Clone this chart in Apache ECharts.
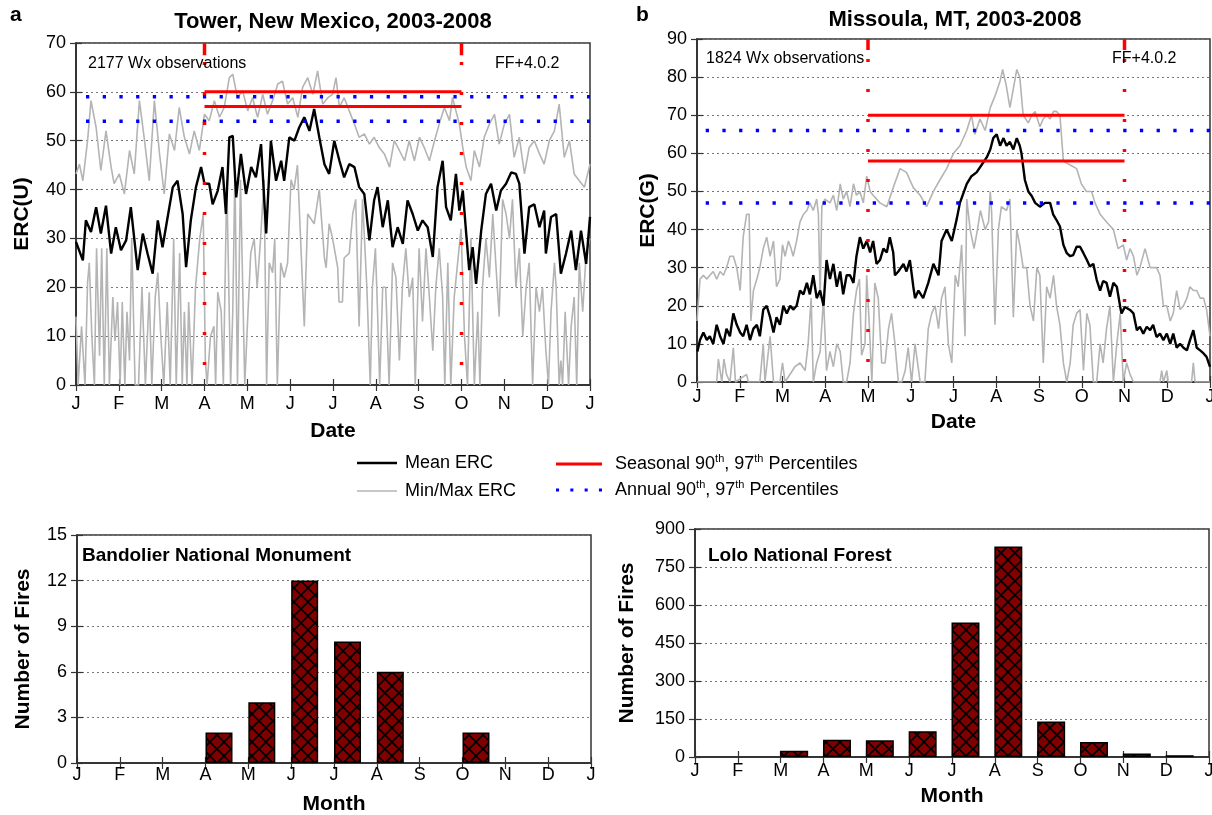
<!DOCTYPE html>
<html>
<head>
<meta charset="utf-8">
<script src="https://cdn.jsdelivr.net/npm/echarts@6/dist/echarts.min.js"></script>
<style>
  html, body { margin: 0; background: #fff; }
  #chart { width: 1212px; height: 815px; }
</style>
</head>
<body>
<div id="chart"></div>
<script>
const monthLabels = ['J', 'F', 'M', 'A', 'M', 'J', 'J', 'A', 'S', 'O', 'N', 'D', 'J'];

// Tower, New Mexico (x = months since Jan 1)
const towerMean = [[0,29.3],[0.16,25.5],[0.23,33.7],[0.35,31.3],[0.47,36.4],[0.58,31],[0.7,36.7],[0.82,26.9],[0.93,32.3],[1.05,27.6],[1.17,29.6],[1.28,36.4],[1.44,23.5],[1.56,31],[1.67,26.9],[1.79,22.8],[1.91,33.7],[2.02,28.2],[2.14,34.4],[2.26,40.5],[2.37,41.8],[2.49,35],[2.57,24.1],[2.68,33.7],[2.8,40.5],[2.92,44.6],[3,41.2],[3.11,41.2],[3.19,37],[3.31,39.8],[3.42,44.6],[3.5,35],[3.58,50.7],[3.66,51],[3.74,38.4],[3.85,47.3],[3.97,39.1],[4.09,44.6],[4.2,42.5],[4.32,49.3],[4.44,31],[4.55,50],[4.67,41.8],[4.79,45.9],[4.86,41.8],[4.98,50.7],[5.1,50],[5.21,52.7],[5.33,54.8],[5.45,52],[5.56,56.5],[5.68,50.7],[5.8,45.2],[5.91,43.2],[6.03,50],[6.15,45.9],[6.26,42.5],[6.38,45.2],[6.5,44.6],[6.61,40.5],[6.73,39.1],[6.85,29.6],[6.96,37.8],[7.04,40.5],[7.16,32.3],[7.28,37.8],[7.39,28.2],[7.51,32.3],[7.63,28.9],[7.74,37.8],[7.86,35],[7.98,31.6],[8.09,33.7],[8.21,32.3],[8.33,26.2],[8.44,40.5],[8.56,45.9],[8.64,36.4],[8.75,33.7],[8.87,43.2],[8.95,35.7],[9.03,39.8],[9.11,31],[9.18,23.5],[9.26,28.2],[9.34,20.7],[9.46,31.6],[9.57,39.1],[9.69,41.2],[9.81,35.7],[9.92,39.8],[10.04,41.2],[10.16,43.5],[10.27,43.2],[10.35,41.2],[10.47,26.9],[10.58,36.4],[10.7,37],[10.82,32.3],[10.93,35.7],[10.97,26.9],[11.09,34.4],[11.21,35],[11.32,22.8],[11.44,26.9],[11.56,31.6],[11.67,23.5],[11.79,31.6],[11.91,24.8],[12,34.4]];
const towerMax = [[0,43.2],[0.08,45.2],[0.16,41.8],[0.27,50],[0.35,58.2],[0.47,52.7],[0.58,43.9],[0.7,52],[0.82,44.6],[0.89,41.2],[1.01,43.2],[1.13,39.1],[1.25,48],[1.36,43.2],[1.48,58.2],[1.6,50],[1.71,41.8],[1.83,58.2],[1.95,47.3],[2.06,39.1],[2.18,51.4],[2.3,48],[2.41,56.8],[2.53,50.7],[2.65,47.3],[2.76,52],[2.88,48],[3,55.4],[3.11,54.1],[3.23,58.2],[3.35,54.8],[3.46,56.8],[3.58,62.9],[3.66,63.6],[3.77,58.8],[3.89,60.2],[4.01,56.1],[4.12,58.8],[4.24,54.8],[4.36,59.5],[4.47,55.4],[4.59,58.2],[4.71,61.6],[4.82,62.2],[4.94,57.5],[5.06,58.8],[5.18,54.8],[5.29,60.9],[5.41,62.9],[5.53,59.5],[5.64,64.3],[5.76,57.5],[5.88,58.8],[5.99,59.5],[6.07,62.9],[6.15,56.8],[6.26,58.8],[6.38,56.1],[6.5,53.4],[6.61,50.7],[6.73,51.4],[6.85,49.3],[6.96,50.7],[7.08,48.6],[7.2,47.3],[7.32,44.6],[7.43,50],[7.55,48],[7.67,45.9],[7.78,50],[7.9,45.9],[8.02,50.7],[8.13,48.6],[8.25,45.9],[8.37,50],[8.48,53.4],[8.6,56.8],[8.72,54.1],[8.79,58.8],[8.87,56.1],[8.95,53.4],[9.03,48.6],[9.11,44.6],[9.22,41.8],[9.3,48],[9.42,44.6],[9.53,50.7],[9.65,53.4],[9.77,55.4],[9.88,49.3],[10,53.4],[10.12,55.4],[10.23,46.6],[10.35,50.7],[10.47,43.2],[10.58,48.6],[10.7,50],[10.82,47.3],[10.93,45.2],[11.05,50],[11.17,52],[11.28,57.5],[11.4,46.6],[11.52,50],[11.63,43.2],[11.75,41.8],[11.87,40.5],[12,45.2]];
const towerMin = [[0,14],[0.05,0],[0.13,12],[0.21,0],[0.27,21],[0.31,25],[0.37,10],[0.43,0],[0.48,28],[0.55,6],[0.6,28],[0.66,0],[0.72,28],[0.78,0],[0.86,18],[0.91,9],[0.97,17],[1.03,0],[1.08,17],[1.14,0],[1.19,15],[1.25,5],[1.3,30],[1.38,0],[1.46,0],[1.54,20],[1.62,0],[1.71,19],[1.77,0],[1.85,18],[1.91,23],[1.98,10],[2.05,0],[2.13,17],[2.2,0],[2.28,30],[2.34,0],[2.42,27],[2.48,0],[2.53,15],[2.59,0],[2.63,17],[2.71,0],[2.79,20],[2.89,30],[2.97,35],[3.02,5],[3.06,0],[3.14,10],[3.22,12],[3.26,0],[3.31,19],[3.39,15],[3.44,0],[3.52,42],[3.61,0],[3.66,15],[3.71,44],[3.77,0],[3.84,42],[3.94,0],[4,12],[4.08,27],[4.16,30],[4.23,20],[4.31,30],[4.39,42],[4.45,0],[4.51,25],[4.59,23],[4.64,30],[4.7,0],[4.78,25],[4.86,22],[4.94,25],[5.02,42],[5.09,40],[5.17,45],[5.33,12],[5.41,35],[5.56,33],[5.68,40],[5.8,26],[5.84,24],[5.91,33],[5.99,30],[6.11,24],[6.14,17],[6.22,17],[6.26,26],[6.38,27],[6.46,35],[6.53,38],[6.61,12],[6.69,38],[6.79,20],[6.87,0],[6.92,20],[6.99,28],[7.04,15],[7.09,0],[7.16,20],[7.23,20],[7.31,0],[7.39,25],[7.47,22],[7.55,5],[7.62,20],[7.7,28],[7.78,18],[7.86,22],[7.92,0],[8.01,28],[8.09,13],[8.17,28],[8.25,18],[8.33,7],[8.4,20],[8.48,28],[8.56,18],[8.61,0],[8.68,25],[8.75,0],[8.83,18],[8.91,25],[8.99,32],[9.07,10],[9.14,0],[9.22,30],[9.3,0],[9.38,15],[9.43,0],[9.49,20],[9.57,30],[9.65,22],[9.73,35],[9.8,25],[9.88,14],[9.96,38],[10.04,35],[10.12,30],[10.19,38],[10.27,20],[10.35,28],[10.43,10],[10.51,20],[10.58,25],[10.66,0],[10.74,20],[10.82,15],[10.89,20],[10.97,7],[11.03,0],[11.09,15],[11.17,25],[11.21,20],[11.28,0],[11.32,5],[11.36,0],[11.42,15],[11.5,0],[11.56,12],[11.63,18],[11.69,0],[11.75,25],[11.83,15],[11.91,27],[12,30]];
const towerSeasonal = [60, 57];
const towerAnnual = [59, 54];
const towerSeason = [3, 9];

// Missoula, MT
const missMean = [[0.01,8],[0.07,11],[0.15,13],[0.23,11],[0.3,12],[0.38,10],[0.46,15],[0.54,12],[0.62,10],[0.69,14],[0.77,12],[0.85,18],[0.93,15],[1.01,13],[1.08,12],[1.16,15],[1.24,11],[1.32,14],[1.4,15],[1.47,12],[1.55,19],[1.63,20],[1.71,17],[1.79,13],[1.86,17],[1.94,15],[2.02,20],[2.1,18],[2.18,20],[2.25,19],[2.33,20],[2.41,24],[2.49,23],[2.57,26],[2.64,23],[2.72,28],[2.8,22],[2.88,24],[2.96,20],[3.03,32],[3.11,27],[3.19,31],[3.27,25],[3.35,29],[3.42,23],[3.5,28],[3.58,28],[3.66,26],[3.73,33],[3.81,38],[3.89,35],[3.97,37],[4.05,34],[4.12,37],[4.2,31],[4.28,32],[4.36,35],[4.44,34],[4.51,38],[4.59,34],[4.63,28],[4.71,29],[4.83,31],[4.9,29],[4.98,32],[5.06,25],[5.1,22],[5.18,24],[5.29,22],[5.41,26],[5.53,31],[5.65,28],[5.72,37],[5.84,40],[5.96,37],[6.08,43],[6.15,47],[6.31,52],[6.42,54],[6.54,55],[6.66,57],[6.78,59],[6.86,61],[6.93,64],[7.01,65],[7.09,62],[7.17,64],[7.24,62],[7.32,63],[7.4,61],[7.48,64],[7.55,62],[7.59,60],[7.67,53],[7.75,50],[7.83,48.8],[7.91,47],[8.02,46],[8.14,47],[8.26,47],[8.33,44],[8.41,42.5],[8.49,40.8],[8.57,36],[8.65,33.8],[8.73,33],[8.8,33.3],[8.88,35.5],[8.96,35.5],[9.04,33.8],[9.12,32],[9.19,30.3],[9.27,31],[9.35,26.8],[9.43,24],[9.5,26.5],[9.58,26],[9.66,22.4],[9.74,26],[9.82,25],[9.9,19.7],[9.93,18],[10.01,19.7],[10.13,18.9],[10.21,18],[10.29,13.6],[10.36,14.5],[10.44,12.7],[10.52,14.5],[10.6,13.6],[10.67,15],[10.75,11.8],[10.83,12.7],[10.91,11],[10.99,12.7],[11.07,10],[11.14,12.7],[11.22,9],[11.3,10],[11.38,9],[11.46,8.3],[11.53,10.9],[11.61,13.6],[11.69,9],[11.77,8.3],[11.85,7.5],[11.92,6.6],[12,4]];
const missMax = [[0,16],[0.07,27],[0.15,28],[0.23,27],[0.3,28],[0.38,29],[0.46,27],[0.54,29],[0.62,28],[0.69,30],[0.77,33],[0.85,33],[0.93,30],[1.01,24],[1.08,38],[1.16,44],[1.22,44],[1.26,16],[1.32,24],[1.4,27],[1.47,30],[1.55,35],[1.63,38],[1.71,33],[1.79,37],[1.86,25],[1.94,27],[2,36],[2.06,33],[2.14,37],[2.2,35],[2.25,33],[2.33,37],[2.41,42],[2.49,44],[2.57,45],[2.64,47],[2.72,45],[2.8,48],[2.84,44],[2.88,22],[2.92,46],[2.99,48],[3.11,47],[3.19,49],[3.27,45],[3.35,52],[3.42,48],[3.5,50],[3.58,46],[3.66,52],[3.73,49],[3.81,50],[3.89,47],[3.97,54],[4.05,50],[4.12,49],[4.28,47],[4.44,46],[4.59,51],[4.75,56],[4.9,55],[5.06,51],[5.22,49],[5.37,46],[5.53,50],[5.68,53],[5.84,56],[6,60],[6.15,62],[6.31,66],[6.42,70],[6.5,65],[6.62,69],[6.74,66],[6.86,72],[6.97,75],[7.09,79],[7.15,82],[7.23,78],[7.32,72],[7.4,77],[7.48,82],[7.55,80],[7.63,70],[7.75,68],[7.83,70],[7.91,71],[8.02,67],[8.1,69],[8.18,70],[8.26,69],[8.34,71],[8.41,71],[8.49,70],[8.57,58],[8.72,57],[8.88,56],[8.99,52],[9.11,50],[9.23,50],[9.31,47],[9.43,44],[9.58,42],[9.74,40],[9.85,35],[9.97,36],[10.05,32],[10.13,35],[10.21,33],[10.29,28],[10.36,30],[10.48,35],[10.6,30],[10.75,30],[10.83,28],[10.91,20],[10.99,20],[11.07,16],[11.14,18],[11.22,24],[11.3,19],[11.38,20],[11.46,22],[11.53,25],[11.61,24],[11.69,24],[11.77,22],[11.85,22],[11.92,19],[12,12]];
const missMin = [[0,0],[0.46,0],[0.5,6],[0.58,0],[0.63,6],[0.69,2],[0.77,0],[0.85,9],[0.9,0],[1.16,2],[1.2,0],[1.47,0],[1.55,10],[1.59,0],[1.71,12],[1.79,0],[1.94,0],[2,5],[2.06,0],[2.29,4],[2.41,5],[2.53,3],[2.6,10],[2.67,22],[2.72,0],[2.8,5],[2.88,8],[2.96,22],[3.03,3],[3.11,8],[3.19,4],[3.27,10],[3.35,8],[3.42,0],[3.5,0],[3.58,5],[3.66,18],[3.73,24],[3.8,27],[3.85,7],[3.93,10],[3.97,28],[4.03,15],[4.09,0],[4.16,26],[4.24,22],[4.32,5],[4.4,5],[4.48,14],[4.55,18],[4.63,10],[4.71,0],[4.79,0],[4.87,3],[4.94,9],[5.02,0],[5.1,10],[5.22,0],[5.33,0],[5.41,14],[5.49,18],[5.57,20],[5.65,14],[5.72,22],[5.8,25],[5.88,10],[5.96,5],[6.04,28],[6.11,25],[6.19,36],[6.27,12],[6.31,48],[6.39,40],[6.48,35],[6.56,40],[6.63,45],[6.74,40],[6.82,42],[6.86,50],[6.89,45],[6.97,15],[7.05,40],[7.12,46],[7.24,45],[7.32,48],[7.4,17],[7.48,40],[7.55,36],[7.63,30],[7.71,30],[7.79,20],[7.87,16],[7.95,30],[8.02,28],[8.1,5],[8.18,25],[8.26,22],[8.34,28],[8.41,20],[8.49,15],[8.57,5],[8.65,0],[8.73,5],[8.8,15],[8.88,18],[8.96,19],[9.04,3],[9.12,18],[9.19,15],[9.27,0],[9.35,0],[9.43,10],[9.5,5],[9.58,14],[9.66,20],[9.74,0],[9.82,10],[9.9,18],[9.97,0],[10.05,5],[10.13,2],[10.21,0],[10.83,0],[10.87,3],[10.91,0],[10.99,3],[11.02,0],[11.57,0],[11.61,5],[11.65,0],[12,0]];
const missSeasonal = [70, 58];
const missAnnual = [66, 47];
const missSeason = [4, 10];

// monthly fire counts, Jan..Dec
const bandolierFires = [0, 0, 0, 2, 4, 12, 8, 6, 0, 2, 0, 0];
const loloFires = [0, 0, 25, 68, 66, 102, 531, 831, 140, 59, 14, 7];

const FONT = "'Liberation Sans', Arial, sans-serif";
const AXIS_COLOR = '#333';

// dark red fill with black cross hatch
function hatchPattern() {
  const c = document.createElement('canvas');
  c.width = 14; c.height = 14;
  const g = c.getContext('2d');
  g.fillStyle = '#800000';
  g.fillRect(0, 0, 14, 14);
  g.strokeStyle = '#000';
  g.lineWidth = 1.6;
  g.beginPath();
  g.moveTo(-1, -1); g.lineTo(15, 15);
  g.moveTo(15, -1); g.lineTo(-1, 15);
  g.stroke();
  return c;
}

function monthAxes(gi, name, nameGap, margin) {
  const base = {
    gridIndex: gi, type: 'value', min: 0, max: 12, interval: 1,
    axisLine: { show: true, lineStyle: { color: AXIS_COLOR, width: 1.5 } },
    axisTick: { show: true, inside: true, length: 6, lineStyle: { color: AXIS_COLOR, width: 1.2 } },
    splitLine: { show: false }
  };
  return [
    Object.assign({}, base, {
      position: 'bottom', name: name, nameLocation: 'middle', nameGap: nameGap,
      nameTextStyle: { fontFamily: FONT, fontSize: 21, fontWeight: 'bold', color: '#000' },
      axisLabel: { margin: margin, fontFamily: FONT, fontSize: 18, color: '#000',
        formatter: v => monthLabels[Math.round(v)] }
    }),
    Object.assign({}, base, { position: 'top', axisLabel: { show: false } })
  ];
}

function valueAxes(gi, max, interval, name, nameGap) {
  const base = {
    gridIndex: gi, type: 'value', min: 0, max: max, interval: interval,
    axisLine: { show: true, lineStyle: { color: AXIS_COLOR, width: 1.5 } },
    axisTick: { show: true, inside: true, length: 6, lineStyle: { color: AXIS_COLOR, width: 1.2 } }
  };
  return [
    Object.assign({}, base, {
      position: 'left', name: name, nameLocation: 'middle', nameGap: nameGap,
      nameTextStyle: { fontFamily: FONT, fontSize: 21, fontWeight: 'bold', color: '#000' },
      axisLabel: { margin: 10, fontFamily: FONT, fontSize: 18, color: '#000' },
      splitLine: { show: true, lineStyle: { color: '#777', width: 1, type: [2, 3] } }
    }),
    Object.assign({}, base, { position: 'right', axisLabel: { show: false }, splitLine: { show: false } })
  ];
}

function line(name, data, k, color, width, type, dashOffset) {
  return {
    name: name, type: 'line', xAxisIndex: 2 * k, yAxisIndex: 2 * k,
    data: data, symbol: 'none', showSymbol: false, silent: true,
    lineStyle: { color: color, width: width, type: type || 'solid', dashOffset: dashOffset || 0, cap: 'butt' },
    itemStyle: { color: color }
  };
}

function ercPanel(k, mean, mn, mx, seasonal, annual, season, yMax, boundOffset, dotOffset, topDash) {
  const s = [
    line('Min/Max ERC', mn, k, '#b4b4b4', 1.6),
    line('Min/Max ERC', mx, k, '#b4b4b4', 1.6),
    line('Mean ERC', mean, k, '#000', 2.4)
  ];
  annual.forEach(v => s.push(line('Annual', [[0, v], [12, v]], k, '#0000ff', 3.5, [3.3, 13.4], dotOffset)));
  seasonal.forEach(v => s.push(line('Seasonal', [[season[0], v], [season[1], v]], k, '#ff0000', 3)));
  season.forEach(m => {
    s.push(line('bound', [[m, yMax], [m, 0]], k, '#ff0000', 3.5, [3, 27], boundOffset));
    s.push(line('bound', [[m, yMax], [m, topDash]], k, '#ff0000', 3.5));
  });
  return s;
}

function barPanel(k, counts, width) {
  return {
    name: 'fires' + k, type: 'bar', xAxisIndex: 2 * k, yAxisIndex: 2 * k,
    data: counts.map((v, i) => [i + 0.315, v]).filter(d => d[1] > 0),
    barWidth: width, silent: true,
    itemStyle: { color: { image: hatchPattern(), repeat: 'repeat' }, borderColor: '#000', borderWidth: 1.5 }
  };
}

function txt(text, x, y, size, bold, align) {
  return {
    type: 'text', x: x, y: y, z: 100, silent: true,
    style: {
      text: text, fill: '#000', font: (bold ? 'bold ' : '') + size + 'px ' + FONT,
      textAlign: align || 'left', align: align || 'left',
      textVerticalAlign: 'middle', verticalAlign: 'middle'
    }
  };
}

const chart = echarts.init(document.getElementById('chart'), null, { renderer: 'canvas' });

const supRich = {
  t: { fontFamily: FONT, fontSize: 18, color: '#000', lineHeight: 22 },
  s: { fontFamily: FONT, fontSize: 11, color: '#000', lineHeight: 12, verticalAlign: 'top' }
};

// legend samples: plain bars and square dots instead of the default line+circle icon
const iconSolid = h => 'path://M0,0h40v' + h + 'h-40z';
const iconDots = 'path://M0,0h3v3h-3zM14,0h3v3h-3zM28,0h3v3h-3zM42,0h3v3h-3z';

const option = {
  animation: false,
  backgroundColor: '#fff',
  grid: [
    { left: 76, top: 43, width: 514, height: 342, show: true, borderColor: AXIS_COLOR, borderWidth: 1.5, outerBoundsMode: 'none' },
    { left: 697, top: 39, width: 513, height: 343, show: true, borderColor: AXIS_COLOR, borderWidth: 1.5, outerBoundsMode: 'none' },
    { left: 77, top: 535, width: 514, height: 228, show: true, borderColor: AXIS_COLOR, borderWidth: 1.5, outerBoundsMode: 'none' },
    { left: 695, top: 529, width: 514, height: 228, show: true, borderColor: AXIS_COLOR, borderWidth: 1.5, outerBoundsMode: 'none' }
  ],
  xAxis: [].concat(
    monthAxes(0, 'Date', 36, 10),
    monthAxes(1, 'Date', 30, 6),
    monthAxes(2, 'Month', 31, 3),
    monthAxes(3, 'Month', 29, 5)
  ),
  yAxis: [].concat(
    valueAxes(0, 70, 10, 'ERC(U)', 43),
    valueAxes(1, 90, 10, 'ERC(G)', 38),
    valueAxes(2, 15, 3, 'Number of Fires', 43),
    valueAxes(3, 900, 150, 'Number of Fires', 57)
  ),
  legend: [
    {
      left: 352, top: 448, orient: 'vertical', itemWidth: 40, itemHeight: 14, itemGap: 8,
      selectedMode: false,
      data: [
        { name: 'Mean ERC', icon: iconSolid(2.4) },
        { name: 'Min/Max ERC', icon: iconSolid(1.6) }
      ],
      textStyle: { fontFamily: FONT, fontSize: 18, color: '#000', lineHeight: 20, padding: [0, 0, 0, 3] }
    },
    {
      left: 551, top: 448, orient: 'vertical', itemWidth: 46, itemHeight: 14, itemGap: 6,
      selectedMode: false,
      data: [
        { name: 'Seasonal', icon: 'path://M0,0h46v3h-46z' },
        { name: 'Annual', icon: iconDots }
      ],
      formatter: n => n === 'Seasonal'
        ? '{t|Seasonal 90}{s|th}{t|, 97}{s|th}{t| Percentiles}'
        : '{t|Annual 90}{s|th}{t|, 97}{s|th}{t| Percentiles}',
      textStyle: { fontFamily: FONT, fontSize: 18, color: '#000', padding: [0, 0, 0, 8], rich: supRich }
    }
  ],
  series: [].concat(
    ercPanel(0, towerMean, towerMin, towerMax, towerSeasonal, towerAnnual, towerSeason, 70, 11, 6.7, 67.5),
    ercPanel(1, missMean, missMin, missMax, missSeasonal, missAnnual, missSeason, 90, 10, 8, 87.1),
    [barPanel(2, bandolierFires, 27), barPanel(3, loloFires, 28)]
  ),
  graphic: [
    txt('a', 10, 15, 21, true),
    txt('b', 636, 15, 21, true),
    txt('Tower, New Mexico, 2003-2008', 333, 22, 22, true, 'center'),
    txt('Missoula, MT, 2003-2008', 955, 20, 22, true, 'center'),
    txt('2177 Wx observations', 88, 64, 16),
    txt('FF+4.0.2', 495, 64, 16),
    txt('1824 Wx observations', 706, 59, 16),
    txt('FF+4.0.2', 1112, 59, 16),
    txt('Bandolier National Monument', 82, 556, 19, true),
    txt('Lolo National Forest', 708, 556, 19, true)
  ]
};

chart.setOption(option);
window.addEventListener('resize', () => chart.resize());
</script>
</body>
</html>
